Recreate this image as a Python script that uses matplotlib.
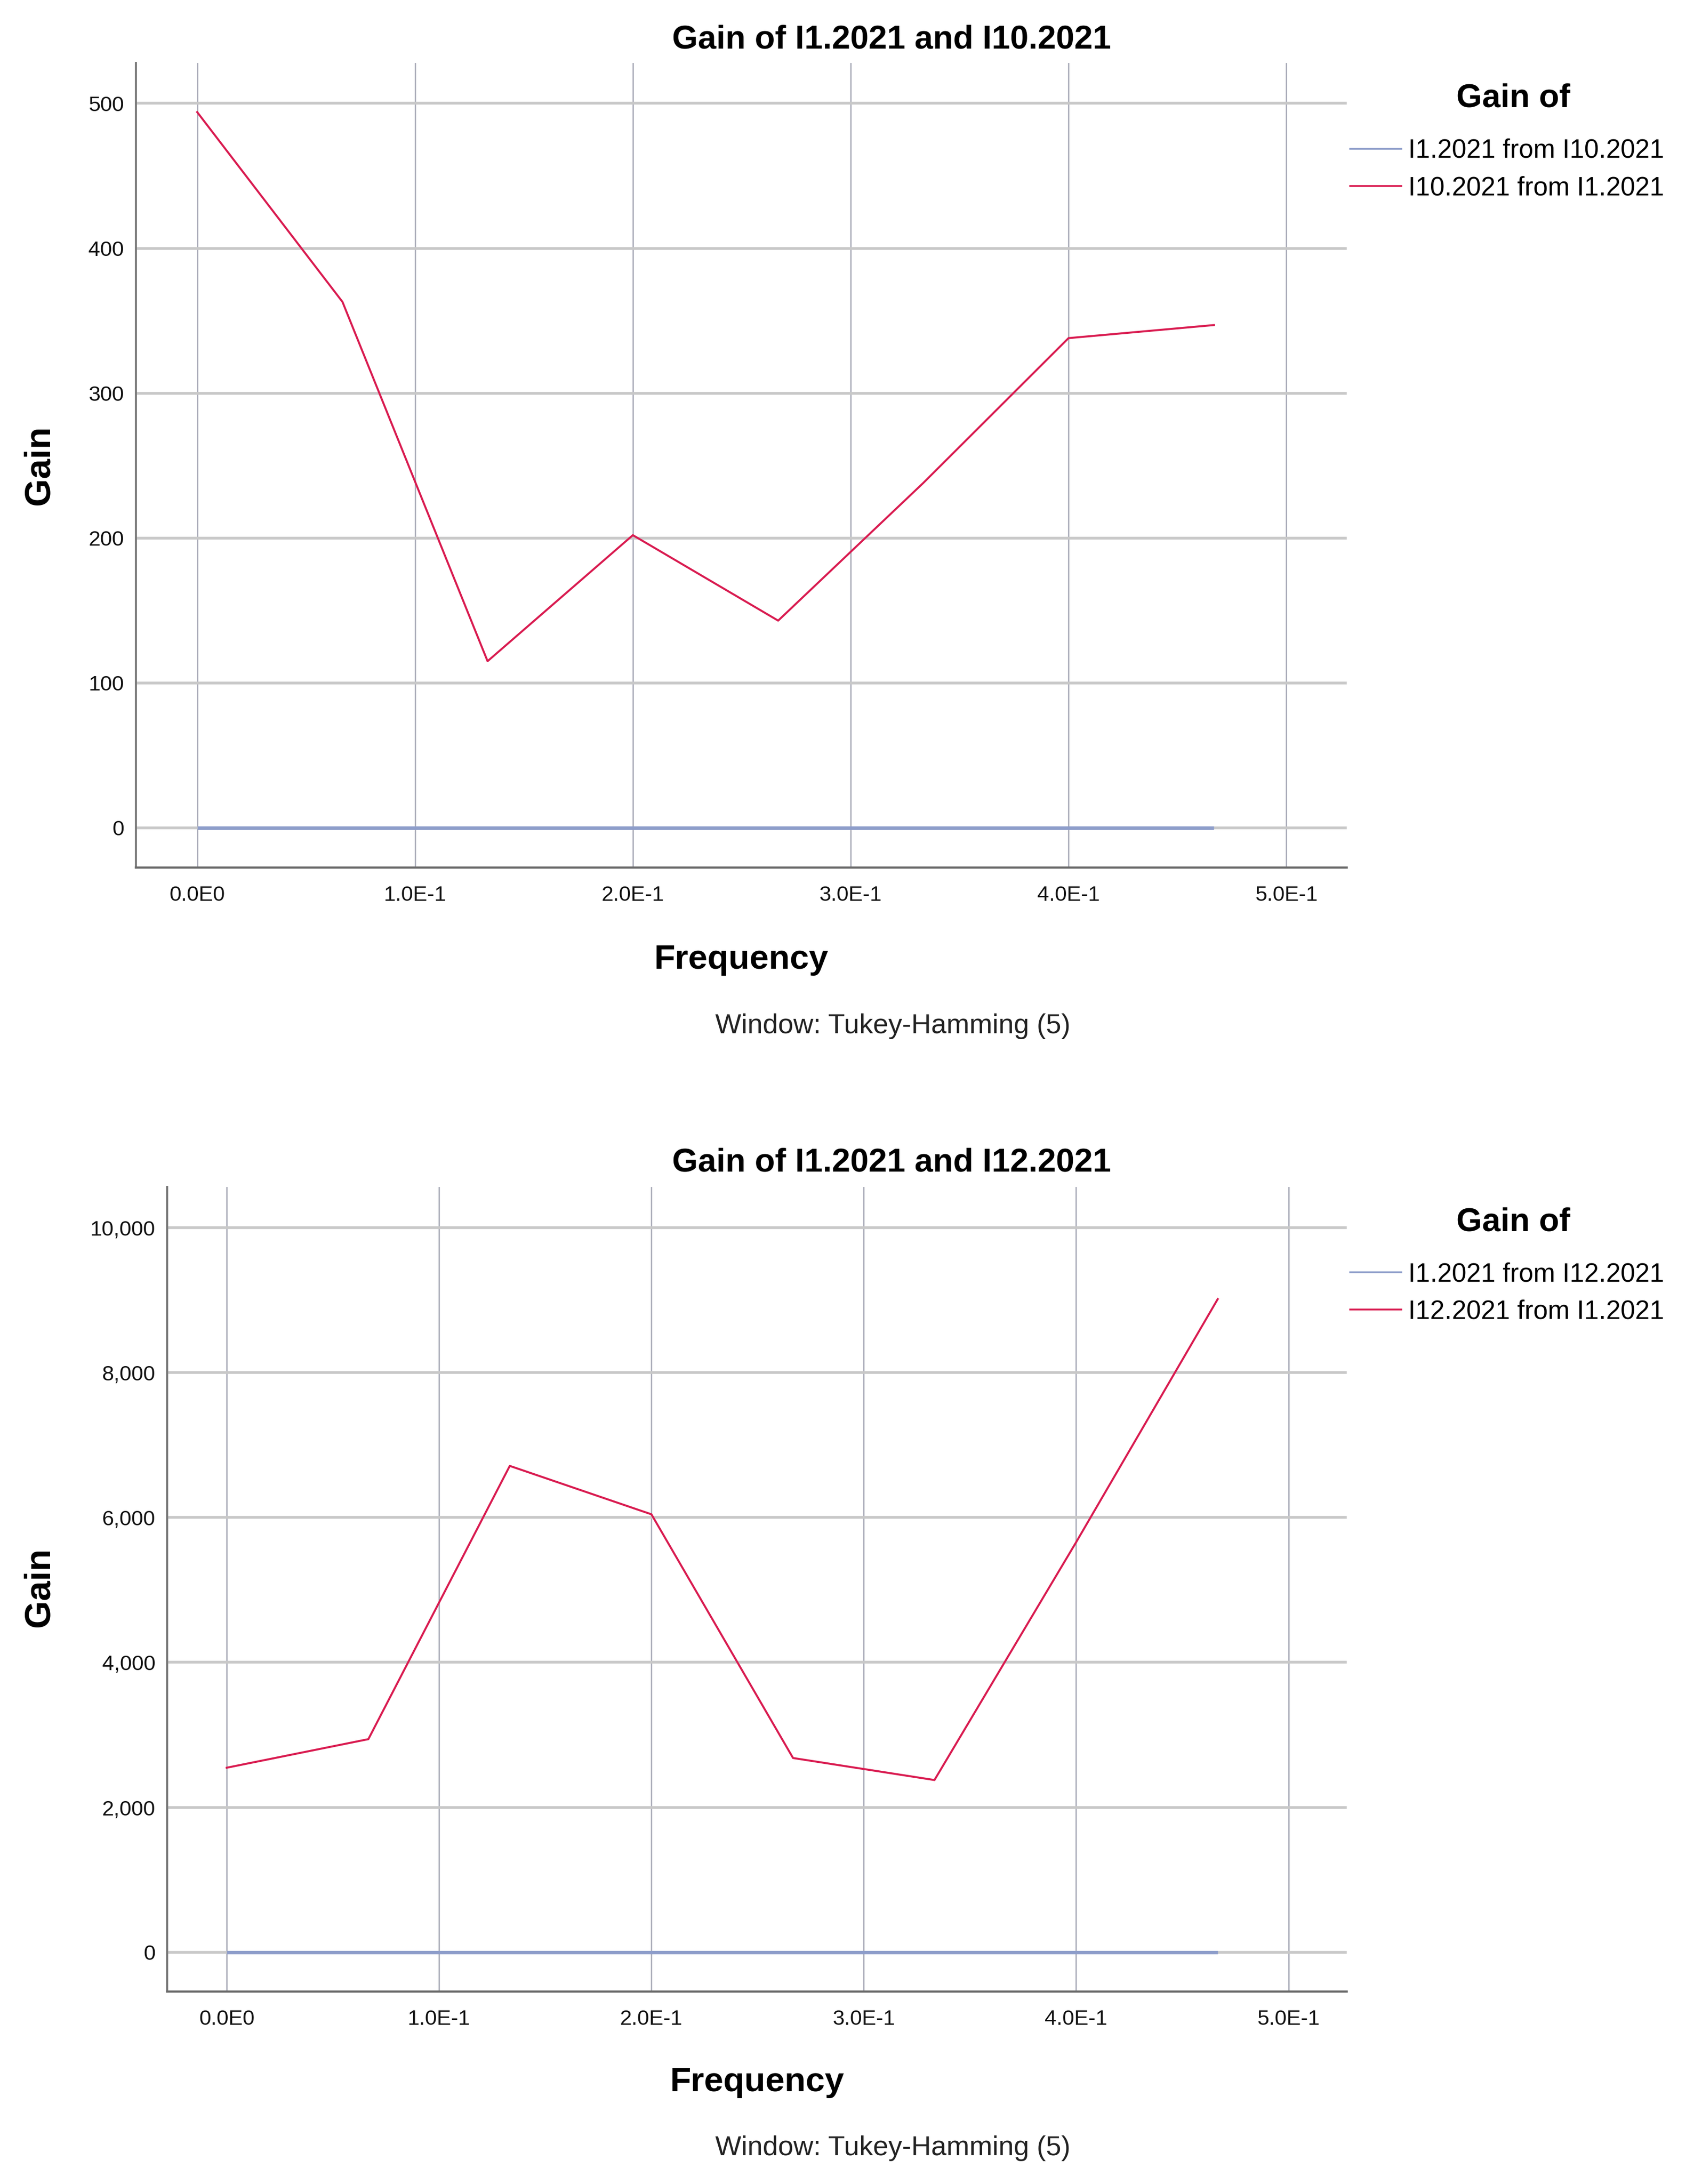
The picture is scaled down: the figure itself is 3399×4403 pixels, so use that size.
import matplotlib
matplotlib.use("Agg")
import matplotlib.pyplot as plt
from matplotlib.lines import Line2D
from matplotlib.ticker import FuncFormatter

plt.rcParams['font.family'] = ['Liberation Sans', 'DejaVu Sans']

# ---------------- data ----------------
freq = [0.0, 0.0667, 0.1333, 0.2, 0.2667, 0.3333, 0.4, 0.4667]

top_title = "Gain of I1.2021 and I10.2021"
top_labels = ["I1.2021 from I10.2021", "I10.2021 from I1.2021"]
top_blue = [0, 0, 0, 0, 0, 0, 0, 0]
top_red = [494, 363, 115, 202, 143, 238, 338, 347]
top_yticks = [0, 100, 200, 300, 400, 500]

bot_title = "Gain of I1.2021 and I12.2021"
bot_labels = ["I1.2021 from I12.2021", "I12.2021 from I1.2021"]
bot_blue = [0, 0, 0, 0, 0, 0, 0, 0]
bot_red = [2546, 2940, 6711, 6043, 2680, 2376, 5657, 9013]
bot_yticks = [0, 2000, 4000, 6000, 8000, 10000]

xticks = [0.0, 0.1, 0.2, 0.3, 0.4, 0.5]
xtick_labels = ["0.0E0", "1.0E-1", "2.0E-1", "3.0E-1", "4.0E-1", "5.0E-1"]

legend_title = "Gain of"
xlabel = "Frequency"
ylabel = "Gain"
note = "Window: Tukey-Hamming (5)"

# ---------------- style ----------------
W, H = 3399, 4403
fig = plt.figure(figsize=(W / 100, H / 100), dpi=100)

BLUE = '#8d9dca'
RED = '#d91b50'
HGRID = '#c8c8c8'
VGRID = '#a4a6b4'
SPINE = '#6c6c6c'


def fy(px):
    return 1 - px / H


def fx(px):
    return px / W


def make_panel(rect, xlim, ylim, blue, red, yticks, labels, title,
               title_base, legtitle_base, leg_top, xlab_base, note_base, ylab_cy):
    ax = fig.add_axes(rect)
    ax.set_xlim(*xlim)
    ax.set_ylim(*ylim)
    ax.set_axisbelow(True)
    ax.xaxis.grid(True, color=VGRID, lw=1.8)
    ax.yaxis.grid(True, color=HGRID, lw=4.0)
    ax.plot(freq, blue, color=BLUE, lw=5.0, solid_capstyle='butt', zorder=3)
    ax.plot(freq, red, color=RED, lw=2.9, zorder=4)
    ax.set_xticks(xticks)
    ax.set_xticklabels(xtick_labels)
    ax.set_yticks(yticks)
    ax.yaxis.set_major_formatter(FuncFormatter(lambda v, p: f"{v:,.0f}"))
    ax.tick_params(axis='both', length=0, labelsize=31, colors='#111111')
    ax.tick_params(axis='x', pad=26)
    ax.tick_params(axis='y', pad=17)
    for s in ('top', 'right'):
        ax.spines[s].set_visible(False)
    ax.spines['left'].set_color('#7a7a7a')
    ax.spines['left'].set_linewidth(3.0)
    ax.spines['bottom'].set_color(SPINE)
    ax.spines['bottom'].set_linewidth(3.2)

    l, b, w, h = rect
    cx = l + w / 2
    fig.text(fx(1797), fy(title_base), title, ha='center', va='baseline',
             fontsize=48, fontweight='bold')
    fig.text(cx, fy(xlab_base), xlabel, ha='center', va='baseline',
             fontsize=50, fontweight='bold')
    fig.text(fx(1800), fy(note_base), note, ha='center', va='baseline',
             fontsize=40, color='#222222')
    fig.text(fx(80), fy(ylab_cy), ylabel, ha='center', va='center',
             rotation=90, fontsize=52, fontweight='bold')
    fig.text(fx(3051), fy(legtitle_base), legend_title, ha='center',
             va='baseline', fontsize=48, fontweight='bold')

    handles = [Line2D([], [], color=BLUE, lw=2.6),
               Line2D([], [], color=RED, lw=2.6)]
    ax.legend(handles, labels, loc='upper left',
              bbox_to_anchor=(fx(2722), fy(leg_top)),
              bbox_transform=fig.transFigure, frameon=False,
              borderpad=0, borderaxespad=0, handlelength=1.95,
              handletextpad=0.27, labelspacing=0.48, fontsize=38)
    return ax


# top panel: axes left 273.7, right 2715, top 127, bottom 1748.6 (px)
make_panel([fx(273.7), fy(1748.6), fx(2715) - fx(273.7), fy(127) - fy(1748.6)],
           (-0.0282, 0.5277), (-27.3, 527.9), top_blue, top_red, top_yticks,
           top_labels, top_title, title_base=97, legtitle_base=216, leg_top=279,
           xlab_base=1953, note_base=2083, ylab_cy=938)

# bottom panel: axes left 336.8, right 2714.8, top 2393.4, bottom 4014.9
make_panel([fx(336.8), fy(4014.9), fx(2714.8) - fx(336.8), fy(2393.4) - fy(4014.9)],
           (-0.0281, 0.5274), (-542, 10557), bot_blue, bot_red, bot_yticks,
           bot_labels, bot_title, title_base=2362, legtitle_base=2482, leg_top=2544,
           xlab_base=4216, note_base=4345, ylab_cy=3200)

fig.savefig("out.png", dpi=100, facecolor='white')
